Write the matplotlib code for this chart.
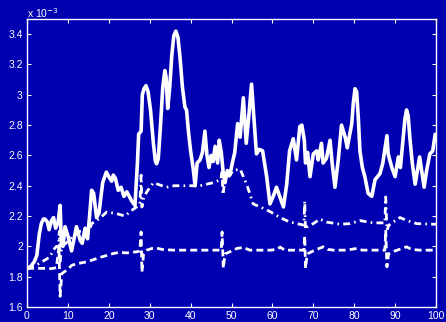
import numpy as np
import matplotlib
matplotlib.use("Agg")
import matplotlib.pyplot as plt
from matplotlib.ticker import FuncFormatter

# Signal levels, in units of 1e-3
solid_x = [0.3, 1.0, 1.8, 2.4, 3.0, 3.5, 4.0, 4.4, 5.0, 5.4, 6.0, 6.5, 7.0, 7.6, 8.1, 8.4, 8.8,
           9.3, 10.1, 10.9, 11.5, 12.1, 13.0, 13.5, 14.2, 14.8, 15.3, 15.8, 16.3, 17.0, 17.6,
           18.5, 19.4, 20.0, 20.7, 21.1, 21.6, 22.3, 23.0, 23.7, 24.4, 25.0, 25.6, 26.4, 27.0,
           27.3, 27.9, 28.2, 28.6, 29.1, 29.6, 30.2, 30.9, 31.4, 31.7, 32.1, 32.6, 33.2, 33.7,
           34.0, 34.4, 34.9, 35.4, 35.9, 36.4, 36.9, 37.4, 38.0, 38.6, 39.0, 39.5, 40.0, 40.6,
           41.1, 41.6, 42.3, 42.9, 43.5, 44.0, 44.5, 45.0, 45.5, 46.0, 46.6, 47.0, 47.5, 48.0,
           48.4, 49.0, 49.6, 50.2, 50.8, 51.5, 52.1, 52.9, 53.6, 54.2, 54.9, 55.6, 56.1, 56.8,
           57.6, 58.6, 59.4, 60.2, 61.0, 61.9, 62.7, 63.5, 64.2, 65.1, 65.9, 66.7, 67.2, 67.8,
           68.1, 68.6, 69.2, 70.0, 70.8, 71.2, 72.0, 72.4, 73.2, 74.1, 74.6, 75.3, 76.1, 76.9,
           77.8, 78.3, 79.4, 79.8, 80.2, 80.6, 81.0, 81.4, 82.0, 82.6, 83.4, 84.3, 85.1, 86.3,
           87.0, 88.0, 88.3, 89.2, 90.0, 90.8, 91.3, 92.0, 92.4, 92.8, 93.2, 93.6, 94.2, 94.9,
           96.0, 97.1, 97.7, 98.5, 99.2, 99.8]
solid_y = [1.855, 1.87, 1.90, 1.94, 2.08, 2.15, 2.18, 2.18, 2.16, 2.11, 2.17, 2.19, 2.12, 2.16, 2.27, 2.02, 2.00,
           2.13, 2.06, 1.97, 2.05, 2.13, 2.04, 2.02, 2.12, 2.05, 2.20, 2.37, 2.35, 2.19, 2.22,
           2.42, 2.49, 2.46, 2.43, 2.47, 2.45, 2.37, 2.39, 2.33, 2.36, 2.33, 2.30, 2.27, 2.55,
           2.74, 2.76, 3.00, 3.04, 3.06, 3.02, 2.90, 2.68, 2.56, 2.545, 2.58, 2.78, 3.05, 3.16,
           3.12, 2.91, 3.05, 3.26, 3.39, 3.42, 3.38, 3.25, 3.05, 2.92, 2.90, 2.75, 2.63, 2.52,
           2.40, 2.55, 2.57, 2.62, 2.76, 2.60, 2.52, 2.60, 2.56, 2.66, 2.55, 2.70, 2.62, 2.48,
           2.42, 2.50, 2.47, 2.55, 2.62, 2.81, 2.72, 2.98, 2.68, 2.85, 3.07, 2.80, 2.61, 2.64,
           2.63, 2.46, 2.28, 2.33, 2.39, 2.32, 2.26, 2.41, 2.63, 2.71, 2.57, 2.79, 2.80, 2.70,
           2.55, 2.62, 2.46, 2.61, 2.63, 2.57, 2.68, 2.55, 2.58, 2.70, 2.55, 2.39, 2.57, 2.80,
           2.72, 2.65, 2.81, 2.95, 3.04, 3.02, 2.85, 2.63, 2.52, 2.46, 2.35, 2.33, 2.44, 2.48,
           2.55, 2.73, 2.61, 2.52, 2.46, 2.59, 2.52, 2.72, 2.84, 2.90, 2.86, 2.72, 2.55, 2.41,
           2.59, 2.39, 2.50, 2.61, 2.63, 2.74]

dashdot_x = [0, 1.1, 2.5, 4.4, 5.6, 6.4, 7.2, 7.7, 7.9, 8.1, 8.5, 9.5, 11, 13, 15.4, 15.8,
             17.8, 19.5, 21.9, 24, 25.2, 26.8, 27.6, 27.9, 28.1, 28.5, 29.3, 30.9, 33, 34.1,
             36, 39, 42.3, 45.5, 47.4, 47.7, 47.9, 48.3, 49.3, 50.4, 52.1, 53.7, 55.3, 57,
             59.4, 61.9, 64.3, 66.7, 67.7, 67.9, 68.1, 68.6, 70, 71.6, 73.3, 76.5, 79, 81.4,
             84.7, 87.5, 87.7, 88.0, 88.5, 89.5, 91.2, 92.9, 95.3, 99.4, 100]
dashdot_y = [1.86, 1.865, 1.88, 1.91, 1.93, 1.975, 2.0, 2.0, 2.10, 1.90, 2.0, 2.02, 2.06, 2.10, 2.12, 2.15,
             2.185, 2.227, 2.216, 2.20, 2.23, 2.26, 2.28, 2.47, 2.26, 2.32, 2.36, 2.42, 2.40, 2.39,
             2.40, 2.40, 2.40, 2.42, 2.44, 2.50, 2.34, 2.42, 2.46, 2.50, 2.51, 2.41, 2.28, 2.26,
             2.23, 2.19, 2.16, 2.146, 2.14, 2.30, 2.11, 2.13, 2.15, 2.18, 2.16, 2.146, 2.15, 2.17,
             2.155, 2.155, 2.326, 2.107, 2.14, 2.16, 2.19, 2.17, 2.15, 2.146, 2.146]

dashed_x = [0, 1.5, 3, 4.5, 6, 7.2, 7.8, 8.1, 8.5, 9.7, 11, 12.5, 14.6, 16, 17.8, 19.5, 21.1,
            22.5, 24.4, 26.8, 27.6, 27.9, 28.1, 28.5, 29.3, 30.5, 31.5, 33, 35.8, 38, 40.7,
            43, 46.3, 47.5, 47.7, 48.0, 48.4, 49.6, 51.3, 52.9, 54.5, 57, 59.5, 61.1, 61.9,
            63, 66, 67.7, 67.9, 68.1, 68.5, 70, 72.4, 73.5, 75, 78, 80.6, 82, 85, 87.5, 87.7,
            88.0, 88.4, 90, 92.8, 94, 96, 98, 100]
dashed_y = [1.855, 1.855, 1.855, 1.855, 1.853, 1.86, 2.00, 1.67, 1.82, 1.843, 1.876, 1.887, 1.898, 1.91, 1.927, 1.94, 1.953,
            1.96, 1.957, 1.964, 1.97, 2.095, 1.83, 1.95, 1.975, 1.986, 1.99, 1.98, 1.975, 1.975, 1.975,
            1.975, 1.975, 1.975, 2.095, 1.855, 1.95, 1.964, 1.986, 1.993, 1.975, 1.975, 1.975, 1.98, 1.995,
            1.975, 1.975, 1.975, 2.07, 1.855, 1.95, 1.97, 1.997, 1.98, 1.975, 1.975, 1.986, 1.975, 1.975, 1.975, 2.107,
            1.865, 1.95, 1.97, 1.997, 1.98, 1.975, 1.975, 1.975]

x_ticks = [0, 10, 20, 30, 40, 50, 60, 70, 80, 90, 100]
y_ticks = [1.6, 1.8, 2.0, 2.2, 2.4, 2.6, 2.8, 3.0, 3.2, 3.4]

bg = "#0000b0"
fg = "white"
plt.rcParams["font.family"] = "Liberation Sans"
plt.rcParams["lines.scale_dashes"] = False

fig = plt.figure(figsize=(4.46, 3.22), dpi=100, facecolor=bg)
ax = fig.add_axes([27 / 446, 1 - 307 / 322, 409 / 446, 288 / 322], facecolor=bg)

scale = 1e-3
ax.plot(solid_x, np.array(solid_y) * scale, color=fg, lw=2.6,
        solid_joinstyle="round", solid_capstyle="round")
ax.plot(dashdot_x, np.array(dashdot_y) * scale, color=fg, lw=2.0, dashes=(5, 3, 1.2, 3))
ax.plot(dashed_x, np.array(dashed_y) * scale, color=fg, lw=2.0, dashes=(5, 3))

ax.set_xlim(0, 100)
ax.set_ylim(1.6e-3, 3.5e-3)
ax.set_xticks(x_ticks)
ax.set_yticks(np.array(y_ticks) * scale)
ax.yaxis.set_major_formatter(FuncFormatter(lambda v, p: f"{v / scale:g}"))

for s in ax.spines.values():
    s.set_color(fg)
    s.set_linewidth(1.0)
ax.tick_params(colors=fg, labelcolor=fg, direction="in", length=3, width=0.8,
               top=True, right=True, labelsize=7.5, pad=3)
fig.text(27 / 446, 1 - 13 / 322, r"x 10$^{-3}$", color=fg, fontsize=7.5, va="center")

fig.savefig("out.png", dpi=100, facecolor=bg)
